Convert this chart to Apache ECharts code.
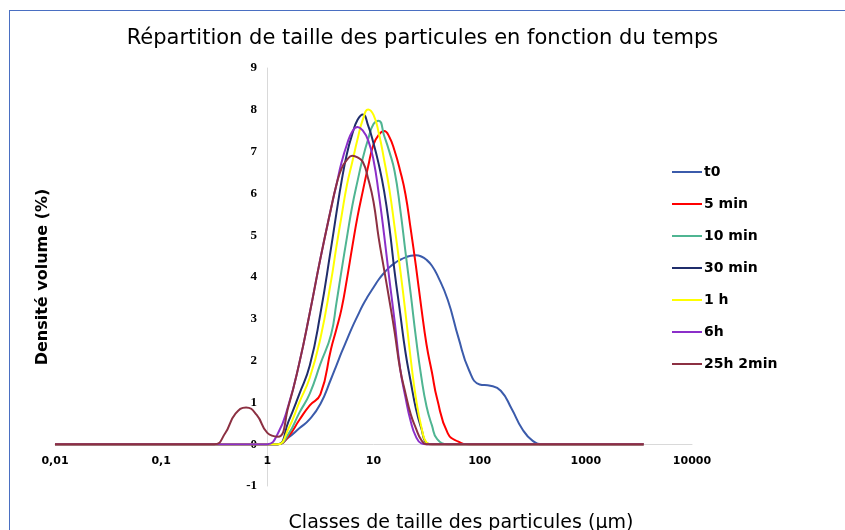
<!DOCTYPE html>
<html>
<head>
<meta charset="utf-8">
<script src="https://cdn.jsdelivr.net/npm/echarts@6/dist/echarts.min.js"></script>
<style>
  html, body { margin: 0; padding: 0; background: #fff; }
  #chart { position: absolute; left: 0; top: 0; width: 845px; height: 530px; }
  #frame { position: absolute; left: 9px; top: 10px; width: 836px; height: 520px;
           border-left: 1px solid #4a6fc2; border-top: 1px solid #4a6fc2; pointer-events: none; }
</style>
</head>
<body>
<div id="chart"></div>
<div id="frame"></div>
<script>
// classes de taille (µm)
const sizes = [0.01, 0.316, 0.398, 0.501, 0.631, 0.794, 1, 1.26, 1.58, 2, 2.51, 3.16,
  3.98, 4.47, 5.01, 5.62, 6.31, 7.08, 7.94, 8.91, 10, 11.2, 12.6, 14.1, 15.8, 17.8, 20, 22.4, 25.1, 28.2, 31.6, 35.5, 39.8,
  50.1, 63.1, 79.4, 100, 126, 158, 200, 251, 316, 398, 3500];

const names = ['t0', '5 min', '10 min', '30 min', '1 h', '6h', '25h 2min'];
const colors = ['#3b5bab', '#ff0000', '#4fb592', '#1f2d6b', '#ffff00', '#8b2fc9', '#8c3042'];

// densité volume (%)
const t0 = [0, 0, 0, 0, 0, 0, 0, 0, 0.16, 0.38, 0.6, 0.96,
  1.56, 1.88, 2.2, 2.5, 2.8, 3.07, 3.33, 3.55, 3.75, 3.94, 4.1, 4.23, 4.33, 4.41, 4.47, 4.51, 4.52, 4.49, 4.41, 4.27, 4.05,
  3.45, 2.55, 1.77, 1.43, 1.4, 1.28, 0.85, 0.37, 0.08, 0, 0];
const min5 = [0, 0, 0, 0, 0, 0, 0, 0, 0.19, 0.58, 0.93, 1.19,
  2.28, 2.75, 3.25, 3.95, 4.72, 5.45, 6.06, 6.65, 7.17, 7.4, 7.49, 7.35, 7.02, 6.55, 5.98, 5.15, 4.26, 3.27, 2.38, 1.72, 1.08,
  0.26, 0.06, 0, 0, 0, 0, 0, 0, 0, 0, 0];
const min10 = [0, 0, 0, 0, 0, 0, 0, 0, 0.24, 0.75, 1.21, 1.92,
  2.62, 3.37, 4.17, 4.95, 5.7, 6.3, 6.85, 7.3, 7.66, 7.74, 7.38, 7.0, 6.53, 5.65, 4.6, 3.6, 2.55, 1.61, 0.9, 0.45, 0.12,
  0, 0, 0, 0, 0, 0, 0, 0, 0, 0, 0];
const min30 = [0, 0, 0, 0, 0, 0, 0, 0, 0.54, 1.2, 1.88, 3.12,
  4.69, 5.52, 6.3, 6.95, 7.42, 7.76, 7.89, 7.62, 7.2, 6.7, 6.05, 5.2, 4.13, 3.15, 2.2, 1.5, 0.85, 0.38, 0.03, 0, 0,
  0, 0, 0, 0, 0, 0, 0, 0, 0, 0, 0];
const h1 = [0, 0, 0, 0, 0, 0, 0, 0, 0.37, 1.0, 1.59, 2.53,
  3.9, 4.72, 5.47, 6.2, 6.75, 7.3, 7.77, 8.01, 7.88, 7.45, 6.8, 6.1, 5.2, 4.2, 3.15, 2.05, 1.1, 0.42, 0.04, 0, 0,
  0, 0, 0, 0, 0, 0, 0, 0, 0, 0, 0];
const h6 = [0, 0, 0, 0, 0, 0, 0, 0.26, 0.93, 1.94, 3.14, 4.44,
  5.64, 6.2, 6.75, 7.17, 7.48, 7.59, 7.5, 7.27, 6.8, 6.0, 5.0, 3.95, 2.95, 1.82, 1.12, 0.55, 0.18, 0.02, 0, 0, 0,
  0, 0, 0, 0, 0, 0, 0, 0, 0, 0, 0];
const h25 = [0, 0, 0.25, 0.73, 0.88, 0.7, 0.27, 0.18, 0.9, 1.94, 3.14, 4.44,
  5.64, 6.2, 6.6, 6.8, 6.9, 6.86, 6.75, 6.35, 5.8, 4.93, 4.17, 3.45, 2.69, 1.8, 1.22, 0.72, 0.38, 0.1, 0, 0, 0,
  0, 0, 0, 0, 0, 0, 0, 0, 0, 0, 0];

const seriesValues = [t0, min5, min10, min30, h1, h6, h25];

const chart = echarts.init(document.getElementById('chart'));

chart.setOption({
  animation: false,
  title: [
    {
      text: 'Répartition de taille des particules en fonction du temps',
      left: 'center',
      top: 23,
      textStyle: { fontFamily: 'DejaVu Sans', fontSize: 21, fontWeight: 'normal', color: '#000' }
    },
    {
      text: 'Classes de taille des particules (µm)',
      left: 456,
      textAlign: 'center',
      top: 509,
      textStyle: { fontFamily: 'DejaVu Sans', fontSize: 19, fontWeight: 'normal', color: '#000' }
    }
  ],
  legend: {
    orient: 'vertical',
    left: 667,
    top: 160,
    itemGap: 18,
    itemWidth: 30,
    itemHeight: 2,
    icon: 'rect',
    data: names,
    textStyle: { fontFamily: 'DejaVu Sans', fontSize: 14, fontWeight: 'bold', color: '#000', padding: [0, 0, 0, -3] }
  },
  grid: { left: 55, right: 153, top: 68, bottom: 44 },
  xAxis: {
    type: 'log',
    logBase: 10,
    min: 0.01,
    max: 10000,
    offset: -42,
    axisLine: { onZero: false, lineStyle: { color: '#d9d9d9', width: 1 } },
    axisTick: { show: false },
    splitLine: { show: false },
    axisLabel: {
      margin: 12,
      fontFamily: 'DejaVu Sans',
      fontSize: 11,
      fontWeight: 'bold',
      color: '#000',
      formatter: v => String(v).replace('.', ',')
    }
  },
  yAxis: {
    type: 'value',
    min: -1,
    max: 9,
    interval: 1,
    offset: -212,
    name: 'Densité volume (%)',
    nameLocation: 'middle',
    nameGap: 216,
    nameTextStyle: { fontFamily: 'DejaVu Sans', fontSize: 16, fontWeight: 'bold', color: '#000' },
    axisLine: { show: true, onZero: false, lineStyle: { color: '#d9d9d9', width: 1 } },
    axisTick: { show: false },
    splitLine: { show: false },
    axisLabel: {
      margin: 10,
      fontFamily: 'Liberation Serif',
      fontSize: 13,
      fontWeight: 'bold',
      color: '#000'
    }
  },
  series: names.map((n, i) => ({
    name: n,
    type: 'line',
    data: sizes.map((s, j) => [s, seriesValues[i][j]]),
    smooth: 0.5,
    showSymbol: false,
    lineStyle: { color: colors[i], width: 2 },
    itemStyle: { color: colors[i] }
  }))
});
</script>
</body>
</html>
